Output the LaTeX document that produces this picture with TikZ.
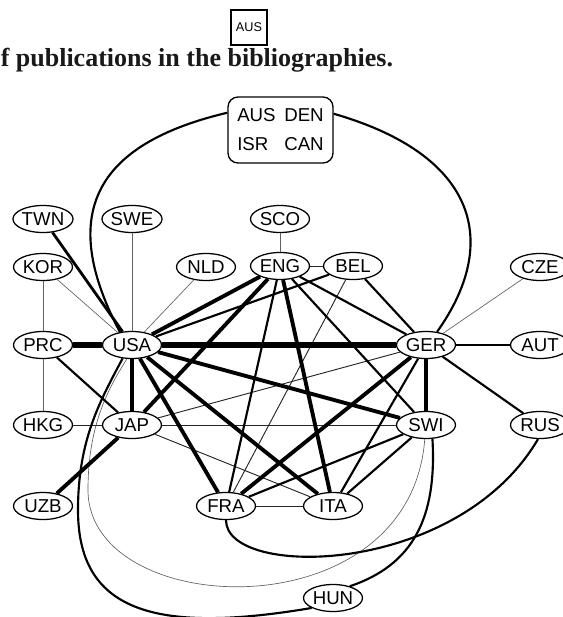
\documentclass[tikz,border=0pt]{standalone}
\usepackage{fontspec}
\setmainfont{Liberation Sans}
\newfontfamily\capfont{Liberation Serif}
\usetikzlibrary{shapes.geometric}
\begin{document}
\begin{tikzpicture}[x=0.75pt,y=-0.75pt,
  cty/.style={ellipse, draw, line width=0.95pt, minimum width=44.25pt, minimum height=20.25pt, inner sep=0pt, font=\fontsize{14pt}{16pt}\selectfont},
  e0/.style={line width=0.5pt, black!62},
  e1/.style={line width=0.7pt, black!85},
  e2/.style={line width=1.6pt},
  e2b/.style={line width=2.1pt},
  e3/.style={line width=2.9pt},
  e4/.style={line width=4.3pt},
]
\useasboundingbox (0,0) rectangle (563,617);

% heading items
\node[draw, line width=1.3pt, minimum width=27pt, minimum height=26.25pt, inner sep=0pt, font=\fontsize{9.5pt}{11pt}\selectfont] (aus) at (249,27.5) {AUS};
\node[anchor=base west, inner sep=0pt, text=black!90, font=\capfont\bfseries\fontsize{19.5pt}{22pt}\selectfont] (cap) at (0.5,67) {f publications in the bibliographies.};

% group box
\node[draw, line width=1pt, rounded corners=7.5pt, minimum width=78.75pt, minimum height=49.5pt, inner sep=0pt, font=\fontsize{14pt}{21.75pt}\selectfont] (grp) at (280.5,130)
  {\begin{tabular}{@{}l@{\hspace{6.5pt}}l@{}}AUS & DEN\\ ISR & CAN\end{tabular}};

% country nodes
\node[cty] (twn) at (43,219) {TWN};
\node[cty] (swe) at (132,219) {SWE};
\node[cty] (sco) at (280,219) {SCO};
\node[cty] (kor) at (43,267) {KOR};
\node[cty] (nld) at (206,267) {NLD};
\node[cty] (eng) at (280,266) {ENG};
\node[cty] (bel) at (353,266) {BEL};
\node[cty] (cze) at (540,267) {CZE};
\node[cty] (prc) at (43,345) {PRC};
\node[cty] (usa) at (132,345) {USA};
\node[cty] (ger) at (426,345) {GER};
\node[cty] (aut) at (540,345) {AUT};
\node[cty] (hkg) at (43,425) {HKG};
\node[cty] (jap) at (132,425) {JAP};
\node[cty] (swi) at (426,425) {SWI};
\node[cty] (rus) at (540,425) {RUS};
\node[cty] (uzb) at (43,506) {UZB};
\node[cty] (fra) at (226,506) {FRA};
\node[cty] (ita) at (333,506) {ITA};
\node[cty] (hun) at (333,598) {HUN};

% curves through the group box
\draw[e2] (usa.133) .. controls (63.5,225) and (82,147) .. (grp.162);
\draw[e2] (ger.50) .. controls (501,242) and (477,155) .. (grp.17);

% thin gray
\draw[e0] (usa) -- (swe);
\draw[e0] (usa) -- (kor);
\draw[e0] (usa) -- (nld);
\draw[e0] (sco) -- (eng);
\draw[e0] (ger) -- (cze);
\draw[e0] (prc) -- (kor);
\draw[e0] (prc) -- (hkg);
\draw[e0] (usa.250) .. controls (105,393) and (88,430) .. (88,490) .. controls (88,620) and (410,634) .. (swi.265);

% thin dark
\draw[e1] (hkg) -- (jap);
\draw[e1] (jap) -- (swi);
\draw[e1] (fra) -- (ita);
\draw[e1] (jap) -- (ger);
\draw[e1] (jap) -- (ita);
\draw[e1] (bel) -- (fra);
\draw[e1] (eng) -- (bel);

% medium
\draw[e2] (eng) -- (ger);
\draw[e2] (eng) -- (swi);
\draw[e2] (eng) -- (fra);
\draw[e2] (bel) -- (ger);
\draw[e2] (usa) -- (bel);
\draw[e2] (ger) -- (aut);
\draw[e2] (ger) -- (rus);
\draw[e2] (ger) -- (ita);
\draw[e2] (swi) -- (fra);
\draw[e2] (swi) -- (ita);
\draw[e2] (prc) -- (jap);
\draw[e2b] (twn) -- (usa);
\draw[e2] (fra.270) .. controls (226,579) and (457,577) .. (rus.262);
\draw[e2] (swi.295) .. controls (437,518) and (413,565) .. (hun.35);
\draw[e2] (usa.235) .. controls (100,401) and (78,440) .. (78,510) .. controls (78,610) and (152,635) .. (hun.205);

% thick
\draw[e3] (usa) -- (eng);
\draw[e3] (eng) -- (jap);
\draw[e3] (usa) -- (jap);
\draw[e3] (usa) -- (swi);
\draw[e3] (usa) -- (fra);
\draw[e3] (usa) -- (ita);
\draw[e3] (eng) -- (ita);
\draw[e3] (ger) -- (fra);
\draw[e3] (ger) -- (swi);
\draw[e3] (jap) -- (uzb);

% very thick
\draw[e4] (usa) -- (prc);
\draw[e4] (usa) -- (ger);
\end{tikzpicture}
\end{document}
